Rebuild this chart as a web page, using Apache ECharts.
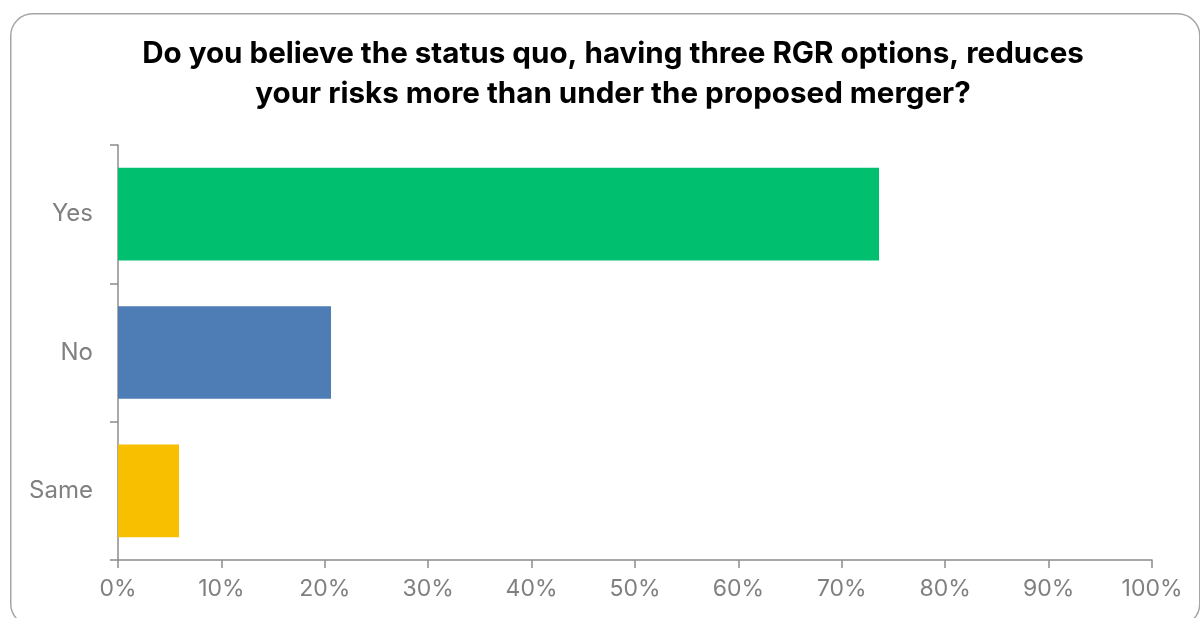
<!DOCTYPE html>
<html><head><meta charset="utf-8">
<script src="https://cdn.jsdelivr.net/npm/echarts@6/dist/echarts.min.js"></script>
<style>html,body{margin:0;padding:0;background:#fff}#c{width:1200px;height:618px}</style>
</head><body><div id="c"></div>
<script>
const titleText = "Do you believe the status quo, having three RGR options, reduces\nyour risks more than under the proposed merger?";
const categories = ["Yes", "No", "Same"];
const values = [73.6, 20.6, 5.9];
const colors = ["#00BF6F", "#4E7CB5", "#F8BE00"];
const xTicks = [0, 10, 20, 30, 40, 50, 60, 70, 80, 90, 100];

const chart = echarts.init(document.getElementById('c'), null, {renderer: 'canvas'});
chart.setOption({
  animation: false,
  backgroundColor: '#fff',
  graphic: [{
    type: 'rect', left: 10, top: 13, z: -10,
    shape: {width: 1189, height: 612, r: 22},
    style: {fill: '#fff', stroke: '#a6a6a6', lineWidth: 1.5}
  }],
  title: {
    text: titleText, left: 608, top: 29, textAlign: 'center',
    textStyle: {fontFamily: 'Inter', fontWeight: 'bold', fontSize: 29.6, color: '#000', lineHeight: 40}
  },
  grid: {left: 118, right: 48, top: 145, bottom: 58, containLabel: false},
  xAxis: {
    type: 'value', min: 0, max: 100, interval: 10,
    axisLine: {show: true, lineStyle: {color: '#8c8c8c', width: 1.5}},
    axisTick: {show: true, length: 8, lineStyle: {color: '#8c8c8c', width: 1.5}},
    splitLine: {show: false},
    axisLabel: {formatter: v => v + '%', fontFamily: 'Inter', fontSize: 23, color: '#808080', margin: 18}
  },
  yAxis: {
    type: 'category', data: categories, inverse: true,
    axisLine: {show: true, lineStyle: {color: '#8c8c8c', width: 1.5}},
    axisTick: {show: true, length: 8, lineStyle: {color: '#8c8c8c', width: 1.5}},
    axisLabel: {fontFamily: 'Inter', fontSize: 24, color: '#808080', margin: 25}
  },
  series: [{
    type: 'bar', barCategoryGap: '33%',
    data: values.map((v, i) => ({value: v, itemStyle: {color: colors[i]}}))
  }]
});
</script></body></html>
